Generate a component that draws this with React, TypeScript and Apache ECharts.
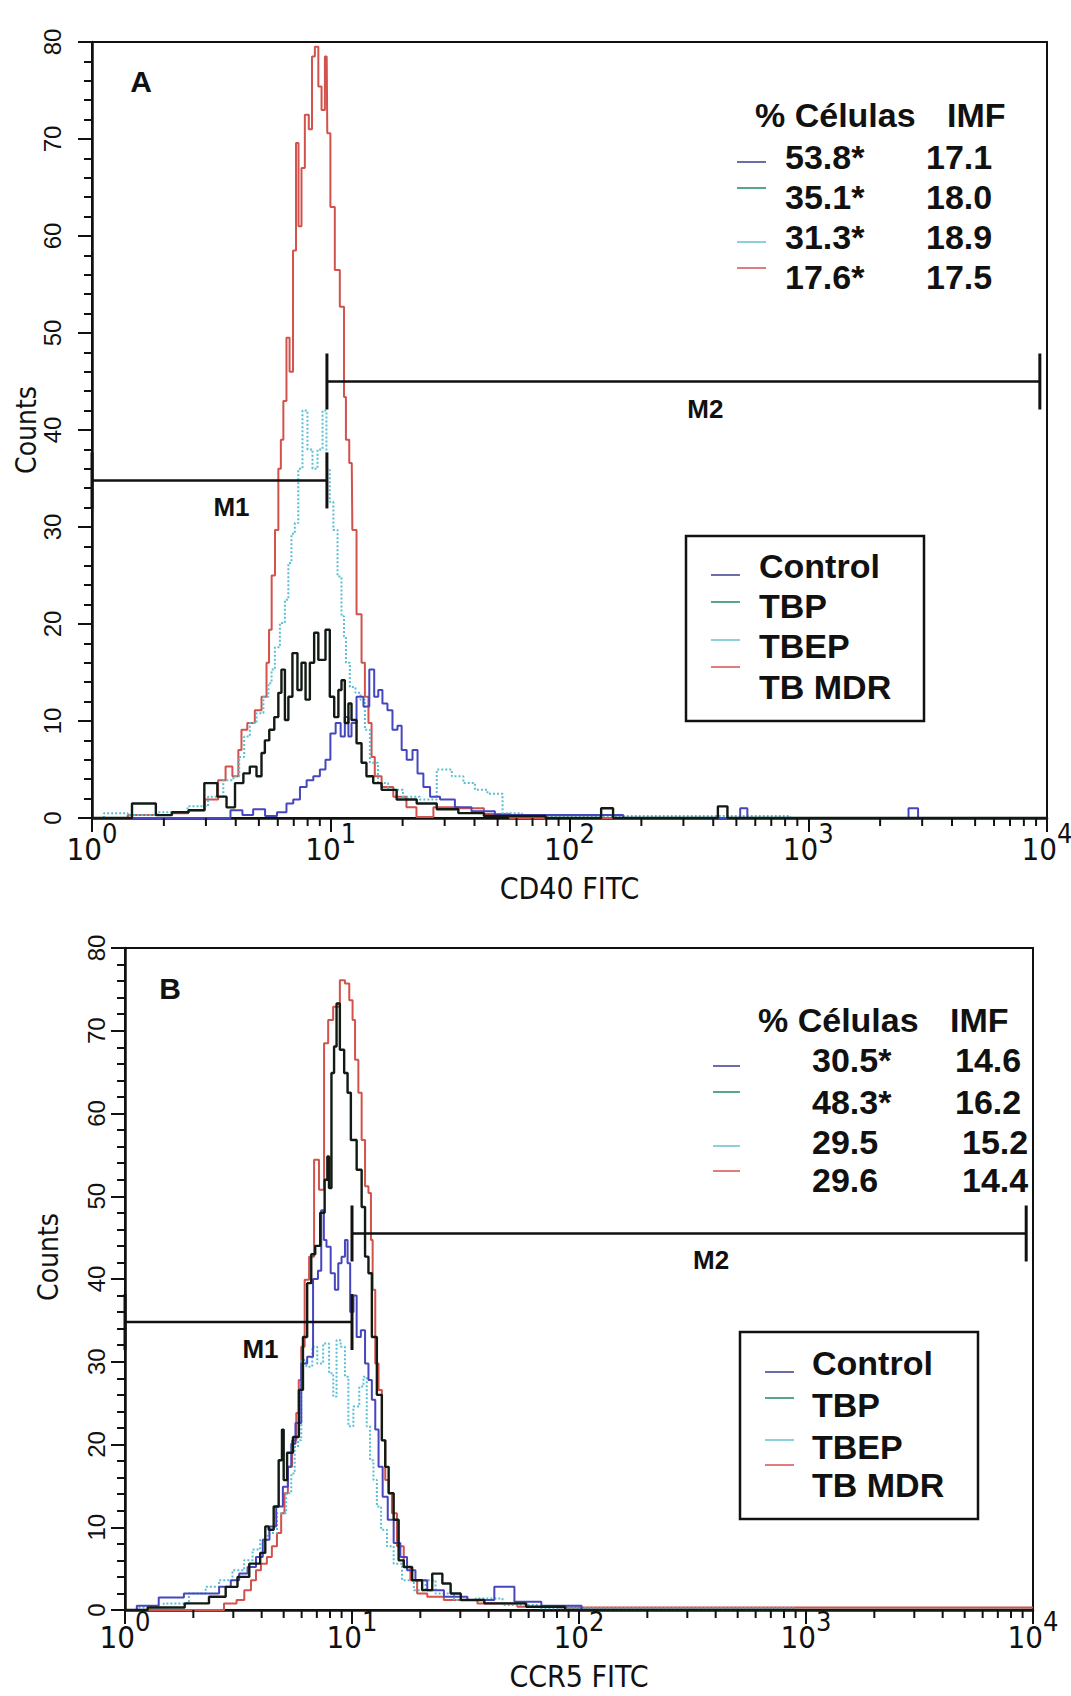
import React, { useEffect, useRef } from "react";
import * as echarts from "echarts";

// x values are log10(FITC fluorescence) (0 = 10^0 ... 4 = 10^4), y values are cell counts.
const SERIES_NAMES = ["Control", "TBP", "TBEP", "TB MDR"];

// ---------- Panel A : CD40 FITC ----------
const A_CONTROL: number[][] = [
  [0, 0], [0.55, 0], [0.61, 0.8], [0.65, 0.3], [0.7, 0.9], [0.75, 0.2], [0.8, 0.6], [0.829, 1.5], [0.857, 1.9],
  [0.885, 3.2], [0.913, 3.9], [0.941, 4.3], [0.968, 5], [0.988, 6], [1.009, 8.7], [1.032, 9.8], [1.051, 8.4],
  [1.067, 10.4], [1.081, 8.4], [1.093, 9.8], [1.123, 12.5], [1.151, 11.5], [1.172, 15.3], [1.192, 12.5],
  [1.206, 13.2], [1.227, 11.8], [1.248, 11.1], [1.269, 9.1], [1.29, 9.5], [1.304, 7], [1.332, 6], [1.353, 7],
  [1.374, 4.6], [1.402, 3.2], [1.43, 2.2], [1.486, 1.9], [1.554, 1.1], [1.625, 0.7], [1.75, 0.3], [2.7, 0],
  [2.73, 1], [2.76, 0], [3.4, 0], [3.44, 1], [3.48, 0], [4, 0],
];
const A_TBP: number[][] = [
  [0, 0], [0.1, 0], [0.235, 1.5], [0.3, 0.3], [0.369, 0.6], [0.44, 0.8], [0.501, 3.6], [0.549, 2.2], [0.578, 1.1],
  [0.62, 3.6], [0.648, 4.6], [0.674, 5.3], [0.704, 4.3], [0.716, 6.7], [0.732, 8], [0.753, 9.1], [0.774, 10.4],
  [0.787, 12.9], [0.8, 15.3], [0.816, 10.1], [0.829, 12.5], [0.85, 17], [0.871, 13.2], [0.884, 16], [0.905, 12.2],
  [0.92, 16], [0.941, 19.1], [0.955, 16.3], [0.968, 16.3], [0.988, 19.4], [1.004, 12.5], [1.025, 10.4],
  [1.039, 13.2], [1.051, 14.2], [1.067, 9.8], [1.081, 11.8], [1.093, 10.1], [1.123, 7.7], [1.135, 5.7],
  [1.164, 4.3], [1.192, 3.6], [1.234, 2.9], [1.318, 1.9], [1.402, 1.5], [1.486, 0.9], [1.583, 0.5], [1.7, 0.2],
  [2.1, 0], [2.165, 1], [2.2, 0], [2.6, 0], [2.643, 1.2], [2.68, 0], [4, 0],
];
const A_TBEP: number[][] = [
  [0, 0], [0.1, 0.5], [0.2, 0.3], [0.35, 0.6], [0.45, 1.2], [0.522, 2.2], [0.578, 3.9], [0.606, 4.3], [0.627, 6.3],
  [0.648, 8.4], [0.674, 9.8], [0.704, 10.8], [0.732, 12.5], [0.746, 13.9], [0.758, 15.3], [0.774, 17.6],
  [0.8, 20.1], [0.816, 22.5], [0.829, 26.3], [0.842, 29.3], [0.857, 30.4], [0.871, 36], [0.892, 42], [0.913, 38],
  [0.934, 36], [0.955, 38], [0.976, 42], [0.988, 36], [1.004, 32.6], [1.018, 29.7], [1.039, 24.9], [1.051, 20.8],
  [1.06, 18.7], [1.067, 16], [1.093, 13.5], [1.114, 12.9], [1.135, 12.2], [1.151, 9.1], [1.177, 5.7],
  [1.219, 3.6], [1.261, 2.9], [1.344, 2.2], [1.402, 1.9], [1.486, 5], [1.528, 4.3], [1.583, 3.6], [1.625, 2.9],
  [1.688, 2.5], [1.751, 0.5], [1.85, 0.2], [4, 0],
];
const A_TBMDR: number[][] = [
  [0, 0], [0.3, 0.3], [0.369, 0.5], [0.439, 0.8], [0.507, 1.9], [0.549, 3.9], [0.57, 5.3], [0.606, 4.3], [0.62, 7],
  [0.632, 9.1], [0.669, 9.8], [0.695, 11.1], [0.725, 12.5], [0.737, 16], [0.746, 19.4], [0.759, 25],
  [0.774, 29.7], [0.787, 36], [0.795, 39], [0.808, 43], [0.821, 49.5], [0.834, 46], [0.85, 58.5], [0.859, 69.6],
  [0.871, 61], [0.884, 67], [0.899, 72.5], [0.917, 71], [0.926, 78.5], [0.941, 79.5], [0.955, 75.4], [0.968, 73],
  [0.983, 78.5], [0.988, 70.6], [1.009, 63], [1.025, 56.5], [1.051, 52.7], [1.06, 43.4], [1.067, 39],
  [1.088, 36.6], [1.093, 29.7], [1.123, 21], [1.135, 16], [1.151, 12.5], [1.165, 9.8], [1.177, 6.3],
  [1.192, 4.3], [1.234, 3.2], [1.29, 2.2], [1.344, 1.1], [1.374, 0.1], [1.486, 1.1], [1.583, 1], [1.7, 0.4],
  [1.8, 0], [4, 0],
];

// ---------- Panel B : CCR5 FITC ----------
const B_CONTROL: number[][] = [
  [0, 0], [0.104, 0.5], [0.193, 1.5], [0.326, 2], [0.385, 2], [0.444, 2.8], [0.488, 3.6], [0.518, 4.4],
  [0.562, 5.2], [0.592, 6.4], [0.622, 8.5], [0.651, 10.1], [0.681, 12.5], [0.71, 14.9], [0.725, 17.3],
  [0.74, 20.1], [0.762, 22.6], [0.791, 29.8], [0.814, 30.6], [0.843, 40], [0.857, 41], [0.872, 48.3],
  [0.88, 44.7], [0.895, 43.9], [0.917, 40.7], [0.932, 38.7], [0.947, 41.9], [0.961, 42.7], [0.977, 44.7],
  [0.984, 41.9], [1.0, 36], [1.013, 38], [1.028, 33], [1.05, 33.8], [1.065, 29.8], [1.08, 27.8], [1.095, 25.4],
  [1.11, 21.8], [1.124, 17.3], [1.146, 13.7], [1.169, 10.9], [1.198, 8.1], [1.228, 6.4], [1.257, 4.8],
  [1.302, 3.6], [1.361, 2.4], [1.449, 1.6], [1.568, 1.2], [1.686, 2.8], [1.745, 1], [1.923, 0.5], [2.1, 0], [4, 0],
];
const B_TBP: number[][] = [
  [0, 0], [0.2, 0.3], [0.326, 0.8], [0.414, 1.6], [0.473, 2.8], [0.518, 4], [0.577, 5.6], [0.614, 6.9],
  [0.622, 10.1], [0.644, 9.7], [0.666, 12.5], [0.688, 18.1], [0.695, 21.8], [0.703, 15.7], [0.725, 19],
  [0.755, 20.9], [0.777, 26.6], [0.791, 33], [0.814, 39.5], [0.827, 43], [0.849, 44], [0.871, 48], [0.888, 52],
  [0.895, 54.8], [0.902, 51], [0.917, 64.9], [0.925, 68.1], [0.939, 73.3], [0.954, 67.7], [0.977, 64.9],
  [0.984, 62.5], [1.006, 56.8], [1.035, 53.2], [1.05, 48.7], [1.065, 42.7], [1.08, 40.7], [1.095, 33],
  [1.124, 26], [1.139, 20.5], [1.154, 17.3], [1.169, 14.1], [1.198, 10.9], [1.213, 6], [1.243, 5.2],
  [1.287, 3.6], [1.331, 2.4], [1.376, 4.4], [1.42, 3.2], [1.449, 2], [1.509, 1.2], [1.657, 0.8], [1.878, 0.4],
  [2.0, 0], [4, 0],
];
const B_TBEP: number[][] = [
  [0, 0], [0.104, 0.3], [0.237, 0.8], [0.326, 2], [0.385, 2.8], [0.444, 3.6], [0.503, 4.8], [0.547, 6],
  [0.577, 7.3], [0.614, 8.5], [0.644, 9.3], [0.695, 11.7], [0.725, 14.1], [0.74, 16.5], [0.755, 19.7],
  [0.769, 20.5], [0.784, 30.2], [0.814, 29.4], [0.836, 31.8], [0.858, 29.8], [0.888, 32.2], [0.91, 28.6],
  [0.925, 25.8], [0.939, 32.6], [0.961, 31.8], [0.977, 28.2], [0.991, 22.2], [1.021, 24.6], [1.043, 27],
  [1.058, 28.2], [1.072, 22.2], [1.087, 18.1], [1.102, 15.7], [1.117, 12.5], [1.139, 9.7], [1.169, 7.7],
  [1.198, 5.6], [1.243, 3.6], [1.302, 2.4], [1.346, 3.6], [1.39, 2], [1.509, 1.2], [1.581, 1.4], [1.745, 0.6],
  [1.9, 0.2], [4, 0],
];
const B_TBMDR: number[][] = [
  [0, 0], [0.4, 0], [0.472, 0.8], [0.511, 1.2], [0.54, 2.4], [0.57, 3.6], [0.584, 4.8], [0.614, 5.6],
  [0.636, 6.4], [0.658, 7.7], [0.681, 9.3], [0.695, 11.7], [0.71, 14.1], [0.725, 17.3], [0.747, 20.5],
  [0.762, 23.8], [0.769, 27.8], [0.784, 31.8], [0.799, 39.9], [0.823, 42.7], [0.843, 54.4], [0.866, 50.8],
  [0.888, 68.5], [0.902, 71.3], [0.932, 72.9], [0.961, 76.1], [0.977, 75.7], [0.999, 73.7], [1.006, 71.3],
  [1.021, 66.5], [1.035, 62.5], [1.05, 56.8], [1.065, 51.2], [1.08, 50.4], [1.087, 44.7], [1.095, 38.7],
  [1.11, 29.8], [1.124, 26.6], [1.139, 20.5], [1.154, 15.7], [1.169, 14.1], [1.183, 11.7], [1.213, 7.7],
  [1.243, 5.2], [1.272, 3.6], [1.302, 2], [1.361, 1.6], [1.448, 1.2], [1.657, 0.8], [1.8, 0.4], [2.0, 0.3],
  [4, 0.3],
];

// Marker gates (x in log10 units, y in counts)
const A_GATES = [
  { name: "M1", from: 0, to: 0.984, y: 34.8 },
  { name: "M2", from: 0.984, to: 3.97, y: 45 },
];
const B_GATES = [
  { name: "M1", from: 0, to: 1.0, y: 34.8 },
  { name: "M2", from: 1.0, to: 3.97, y: 45.5 },
];

// Statistics tables
const STATS_HEADER = ["% Células", "IMF"];
const A_PCT = ["53.8*", "35.1*", "31.3*", "17.6*"];
const A_IMF = ["17.1", "18.0", "18.9", "17.5"];
const B_PCT = ["30.5*", "48.3*", "29.5", "29.6"];
const B_IMF = ["14.6", "16.2", "15.2", "14.4"];

// Axes
const DECADE_TICKS = [0, 1, 2, 3, 4];
const Y_MAX = 80;
const Y_STEP = 10;
const MINOR_TICK_VALUES = [
  2, 3, 4, 5, 6, 7, 8, 9, 20, 30, 40, 50, 60, 70, 80, 90,
  200, 300, 400, 500, 600, 700, 800, 900, 2000, 3000, 4000, 5000, 6000, 7000, 8000, 9000,
];

// ---------- styles & layout ----------
const INK = "#111111";
const SANS = '"Liberation Sans", Arial, Helvetica, sans-serif';
const NARROW = '"Liberation Sans Narrow", "Arial Narrow", "DejaVu Sans Condensed", sans-serif';
const CURVE_STYLE = [
  { color: "#4646be", width: 2, type: "solid" },
  { color: "#121a14", width: 2.4, type: "solid" },
  { color: "#58c0d2", width: 2, type: "dotted" },
  { color: "#d2524c", width: 2, type: "solid" },
];
const KEY_COLORS = ["#6d6da8", "#5aa68a", "#8ed0da", "#e07c7c"];
const DRAW_ORDER = [3, 2, 0, 1];

const PANELS = [
  {
    letter: "A",
    curves: [A_CONTROL, A_TBP, A_TBEP, A_TBMDR],
    gates: A_GATES,
    pct: A_PCT,
    imf: A_IMF,
    xName: "CD40 FITC",
    grid: { left: 92, top: 42, width: 955, height: 776 },
    xNameGap: 70,
    yNameGap: 66,
    yNamePad: [0, 0, 0, 0],
    yLabelMargin: 28,
    xLabelMargin: 2,
    letterPos: [141, 81],
    stats: {
      headX: 755, imfHeadX: 947, headY: 115, pctX: 785, imfX: [926, 926, 926, 926],
      rowY: [157, 197, 237, 277], markX: [737, 766], markY: [162, 188, 242, 268],
    },
    legend: {
      box: [686, 536, 238, 185], textX: 759, rowY: [566, 606, 646, 687],
      markX: [711, 740], markY: [575, 602, 640, 667],
    },
  },
  {
    letter: "B",
    curves: [B_CONTROL, B_TBP, B_TBEP, B_TBMDR],
    gates: B_GATES,
    pct: B_PCT,
    imf: B_IMF,
    xName: "CCR5 FITC",
    grid: { left: 125, top: 948, width: 908, height: 662 },
    xNameGap: 66,
    yNameGap: 77,
    yNamePad: [0, 0, 0, 44],
    yLabelMargin: 17,
    xLabelMargin: -2,
    letterPos: [170, 988],
    stats: {
      headX: 758, imfHeadX: 950, headY: 1020, pctX: 812, imfX: [955, 955, 962, 962],
      rowY: [1060, 1102, 1142, 1180], markX: [713, 740], markY: [1066, 1092, 1146, 1171],
    },
    legend: {
      box: [740, 1332, 238, 187], textX: 812, rowY: [1363, 1405, 1447, 1485],
      markX: [765, 794], markY: [1372, 1398, 1440, 1465],
    },
  },
];

function txt(text: string, x: number, y: number, size: number, bold: boolean, align = "left", family = SANS) {
  return {
    type: "text",
    x,
    y,
    z: 100,
    silent: true,
    style: {
      text,
      fill: INK,
      fontSize: size,
      fontWeight: bold ? "bold" : "normal",
      fontFamily: family,
      align,
      textAlign: align,
      verticalAlign: "middle",
      textVerticalAlign: "middle",
    },
  };
}

function seg(x1: number, y1: number, x2: number, y2: number, color: string, w = 2) {
  return {
    type: "line",
    z: 100,
    silent: true,
    shape: { x1, y1, x2, y2 },
    style: { stroke: color, lineWidth: w },
  };
}

function buildOption() {
  const grids: any[] = [];
  const xAxes: any[] = [];
  const yAxes: any[] = [];
  const series: any[] = [];
  const graphic: any[] = [];

  PANELS.forEach((p, gi) => {
    grids.push({
      ...p.grid,
      show: true,
      borderColor: INK,
      borderWidth: 2,
      backgroundColor: "transparent",
      containLabel: false,
      outerBoundsMode: "none",
    });
    xAxes.push({
      gridIndex: gi,
      type: "value",
      min: DECADE_TICKS[0],
      max: DECADE_TICKS[DECADE_TICKS.length - 1],
      interval: 1,
      axisLine: { show: true, onZero: false, lineStyle: { color: INK, width: 2.5 } },
      axisTick: { show: true, length: 14, lineStyle: { color: INK, width: 2 } },
      splitLine: { show: false },
      axisLabel: {
        margin: p.xLabelMargin,
        formatter: (v: number) => `{b|10}{s|${v}}`,
        rich: {
          b: { fontSize: 31, lineHeight: 31, fontFamily: NARROW, color: INK, verticalAlign: "bottom" },
          s: { fontSize: 27, lineHeight: 44, fontFamily: NARROW, color: INK, verticalAlign: "top" },
        },
      },
      name: p.xName,
      nameLocation: "middle",
      nameGap: p.xNameGap,
      nameMoveOverlap: false,
      nameTextStyle: { fontSize: 30, fontFamily: NARROW, color: INK, align: "center", verticalAlign: "middle" },
    });
    yAxes.push({
      gridIndex: gi,
      type: "value",
      min: 0,
      max: Y_MAX,
      interval: Y_STEP,
      axisLine: { show: true, onZero: false, lineStyle: { color: INK, width: 2.5 } },
      axisTick: { show: true, length: 14, lineStyle: { color: INK, width: 2 } },
      minorTick: { show: true, splitNumber: 5, length: 8, lineStyle: { color: INK, width: 2 } },
      splitLine: { show: false },
      minorSplitLine: { show: false },
      axisLabel: { rotate: 90, margin: p.yLabelMargin, fontSize: 24, fontFamily: SANS, color: INK },
      name: "Counts",
      nameLocation: "middle",
      nameRotate: 90,
      nameGap: p.yNameGap,
      nameMoveOverlap: false,
      nameTextStyle: {
        fontSize: 28,
        fontFamily: NARROW,
        color: INK,
        align: "center",
        verticalAlign: "middle",
        padding: p.yNamePad,
      },
    });

    DRAW_ORDER.forEach((si) => {
      const st = CURVE_STYLE[si];
      series.push({
        name: `${p.letter} ${SERIES_NAMES[si]}`,
        type: "line",
        xAxisIndex: gi,
        yAxisIndex: gi,
        data: p.curves[si],
        step: "middle",
        showSymbol: false,
        symbol: "none",
        clip: true,
        lineStyle: { color: st.color, width: st.width, type: st.type },
        itemStyle: { color: st.color },
        emphasis: { disabled: true },
        z: 3 + DRAW_ORDER.indexOf(si) * 0.01,
      });
    });

    // logarithmic minor ticks on the x axis
    series.push({
      type: "custom",
      xAxisIndex: gi,
      yAxisIndex: gi,
      clip: false,
      silent: true,
      z: 5,
      data: MINOR_TICK_VALUES.map((v) => [Math.log10(v), 0]),
      renderItem: (_params: any, api: any) => {
        const c = api.coord([api.value(0), 0]);
        return {
          type: "line",
          shape: { x1: c[0], y1: c[1], x2: c[0], y2: c[1] + 8 },
          style: { stroke: INK, lineWidth: 2 },
        };
      },
    });

    // marker gates M1 / M2
    const gates = p.gates;
    series.push({
      type: "custom",
      xAxisIndex: gi,
      yAxisIndex: gi,
      clip: false,
      silent: true,
      z: 6,
      data: gates.map((g) => [g.from, g.to, g.y]),
      renderItem: (params: any, api: any) => {
        const a = api.coord([api.value(0), api.value(2)]);
        const b = api.coord([api.value(1), api.value(2)]);
        const name = gates[params.dataIndex].name;
        return {
          type: "group",
          children: [
            { type: "line", shape: { x1: a[0], y1: a[1], x2: b[0], y2: b[1] }, style: { stroke: INK, lineWidth: 2.5 } },
            { type: "line", shape: { x1: a[0], y1: a[1] - 28, x2: a[0], y2: a[1] + 28 }, style: { stroke: INK, lineWidth: 3 } },
            { type: "line", shape: { x1: b[0], y1: b[1] - 28, x2: b[0], y2: b[1] + 28 }, style: { stroke: INK, lineWidth: 3 } },
            {
              type: "text",
              style: {
                text: name,
                x: (a[0] + b[0]) / 2 + 22,
                y: a[1] + 27,
                fill: INK,
                fontSize: 26,
                fontWeight: "bold",
                fontFamily: SANS,
                align: "center",
                verticalAlign: "middle",
              },
            },
          ],
        };
      },
    });

    // panel letter
    graphic.push(txt(p.letter, p.letterPos[0], p.letterPos[1], 30, true, "center"));

    // statistics table
    const s = p.stats;
    graphic.push(txt(STATS_HEADER[0], s.headX, s.headY, 34, true));
    graphic.push(txt(STATS_HEADER[1], s.imfHeadX, s.headY, 34, true));
    p.pct.forEach((v, i) => {
      graphic.push(txt(v, s.pctX, s.rowY[i], 34, true));
      graphic.push(txt(p.imf[i], s.imfX[i], s.rowY[i], 34, true));
      graphic.push(seg(s.markX[0], s.markY[i], s.markX[1], s.markY[i], KEY_COLORS[i], 2));
    });

    // legend box
    const l = p.legend;
    graphic.push({
      type: "rect",
      z: 99,
      silent: true,
      shape: { x: l.box[0], y: l.box[1], width: l.box[2], height: l.box[3] },
      style: { fill: "#ffffff", stroke: INK, lineWidth: 2.5 },
    });
    SERIES_NAMES.forEach((n, i) => {
      graphic.push(txt(n, l.textX, l.rowY[i], 34, true));
      graphic.push(seg(l.markX[0], l.markY[i], l.markX[1], l.markY[i], KEY_COLORS[i], 2));
    });
  });

  return {
    animation: false,
    backgroundColor: "#ffffff",
    grid: grids,
    xAxis: xAxes,
    yAxis: yAxes,
    series,
    graphic,
  };
}

export default function App() {
  const ref = useRef<HTMLDivElement>(null);
  useEffect(() => {
    if (!ref.current) return;
    const chart = echarts.init(ref.current, null, { renderer: "svg" });
    chart.setOption(buildOption() as any);
    return () => chart.dispose();
  }, []);
  return (
    <div
      ref={ref}
      style={{ position: "absolute", left: 0, top: 0, width: 1071, height: 1696, background: "#fff" }}
    />
  );
}
